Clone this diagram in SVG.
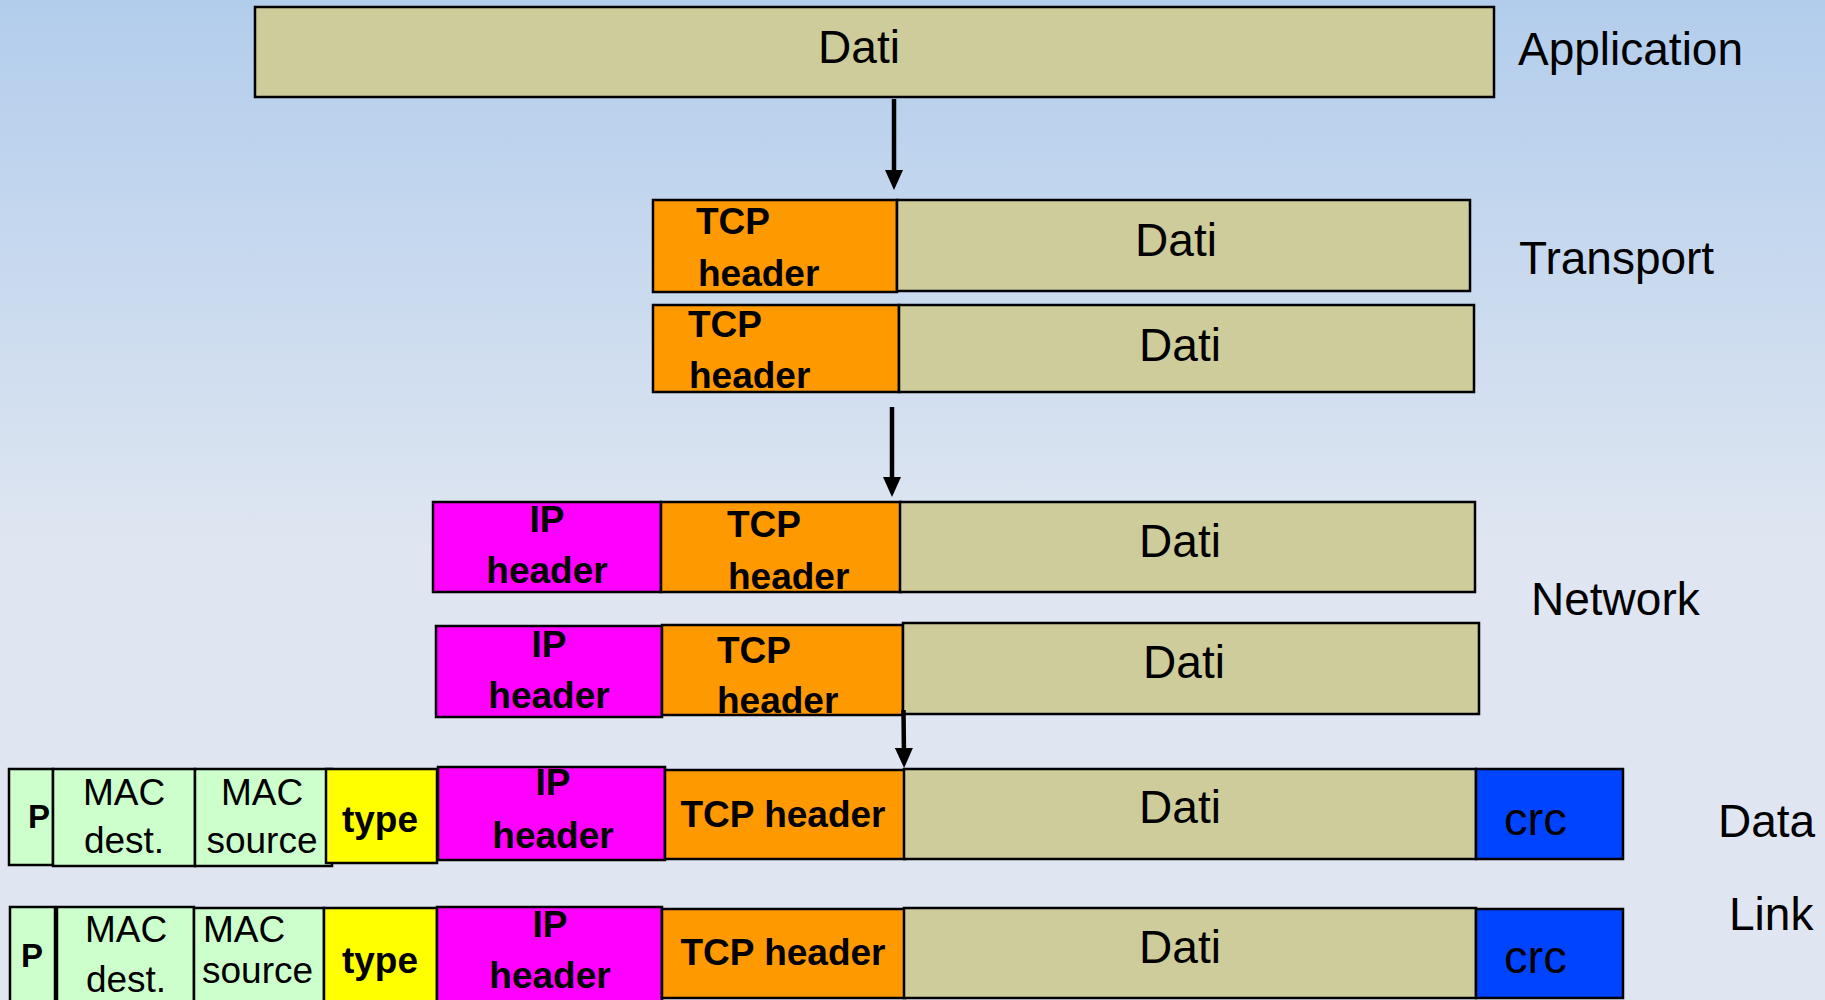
<svg xmlns="http://www.w3.org/2000/svg" width="1825" height="1000" viewBox="0 0 1825 1000">
  <defs>
    <linearGradient id="bg" x1="0" y1="0" x2="0" y2="1000" gradientUnits="userSpaceOnUse">
      <stop offset="0" stop-color="#b2cdec"/>
      <stop offset="0.55" stop-color="#dfe6f1"/>
      <stop offset="1" stop-color="#dfe6f1"/>
    </linearGradient>
    <!-- arrowhead: reference point sits 10px behind the tip -->
    <marker id="head" markerWidth="20" markerHeight="18" refX="10" refY="9" orient="auto" markerUnits="userSpaceOnUse" viewBox="0 0 20 18">
      <path d="M0,0 L20,9 L0,18 Z" fill="#000"/>
    </marker>
  </defs>
  <style>
    rect { stroke: #000; stroke-width: 2.5; }
    .dati { fill: #cdcc9a; }
    .tcp { fill: #ff9900; }
    .ip { fill: #ff00ff; }
    .mac { fill: #ccffcc; }
    .type { fill: #ffff00; }
    .crc { fill: #0044ff; }
    text { font-family: "Liberation Sans", Arial, sans-serif; fill: #000; }
    .big { font-size: 46px; }
    .hdr { font-size: 37px; font-weight: bold; }
    .fld { font-size: 37px; }
    .mid { text-anchor: middle; }
    .arrow { stroke: #000; stroke-width: 4.5; fill: none; }
  </style>

  <rect x="0" y="0" width="1825" height="1000" fill="url(#bg)" style="stroke:none"/>

  <!-- application layer -->
  <g id="app-data">
    <rect class="dati" x="255" y="7" width="1239" height="90"/>
    <text class="big mid" x="859" y="63">Dati</text>
  </g>
  <g id="label-application"><text class="big" x="1518" y="65">Application</text></g>

  <!-- transport layer -->
  <g id="tcp-seg-1">
    <rect class="tcp" x="653" y="200" width="244" height="92"/>
    <rect class="dati" x="897" y="200" width="573" height="91"/>
    <text class="hdr" x="696" y="234">TCP</text>
    <text class="hdr" x="698" y="286">header</text>
    <text class="big mid" x="1176" y="256">Dati</text>
  </g>
  <g id="tcp-seg-2">
    <rect class="tcp" x="653" y="305" width="246" height="87"/>
    <rect class="dati" x="899" y="305" width="575" height="87"/>
    <text class="hdr" x="688" y="337">TCP</text>
    <text class="hdr" x="689" y="388">header</text>
    <text class="big mid" x="1180" y="361">Dati</text>
  </g>
  <g id="label-transport"><text class="big" x="1519" y="274">Transport</text></g>

  <!-- network layer -->
  <g id="ip-pkt-1">
    <rect class="ip" x="433" y="502" width="228" height="90"/>
    <rect class="tcp" x="661" y="502" width="240" height="90"/>
    <rect class="dati" x="900" y="502" width="575" height="90"/>
    <text class="hdr mid" x="547" y="532">IP</text>
    <text class="hdr mid" x="547" y="583">header</text>
    <text class="hdr" x="727" y="537">TCP</text>
    <text class="hdr" x="728" y="589">header</text>
    <text class="big mid" x="1180" y="557">Dati</text>
  </g>
  <g id="ip-pkt-2">
    <rect class="ip" x="436" y="626" width="226" height="91"/>
    <rect class="tcp" x="662" y="625" width="241" height="90"/>
    <rect class="dati" x="903" y="623" width="576" height="91"/>
    <text class="hdr mid" x="549" y="657">IP</text>
    <text class="hdr mid" x="549" y="708">header</text>
    <text class="hdr" x="717" y="663">TCP</text>
    <text class="hdr" x="717" y="713">header</text>
    <text class="big mid" x="1184" y="678">Dati</text>
  </g>
  <g id="label-network"><text class="big" x="1531" y="615">Network</text></g>

  <!-- data link layer -->
  <g id="frame-1">
    <rect class="mac" x="9" y="769" width="44" height="96"/>
    <rect class="mac" x="53" y="769" width="142" height="97"/>
    <rect class="mac" x="195" y="769" width="137" height="97"/>
    <rect class="type" x="326" y="769" width="111" height="94"/>
    <rect class="ip" x="438" y="767" width="227" height="93"/>
    <rect class="tcp" x="665" y="770" width="240" height="89"/>
    <rect class="dati" x="904" y="769" width="572" height="90"/>
    <rect class="crc" x="1476" y="769" width="147" height="90"/>
    <text class="mid" x="39" y="828" style="font-size:33px;font-weight:bold">P</text>
    <text class="fld mid" x="124" y="805">MAC</text>
    <text class="fld mid" x="124" y="853">dest.</text>
    <text class="fld mid" x="262" y="805">MAC</text>
    <text class="fld mid" x="262" y="853">source</text>
    <text class="hdr mid" x="380" y="832">type</text>
    <text class="hdr mid" x="553" y="795">IP</text>
    <text class="hdr mid" x="553" y="848">header</text>
    <text class="hdr mid" x="783" y="827">TCP header</text>
    <text class="big mid" x="1180" y="823">Dati</text>
    <text x="1504" y="835" style="font-size:47px">crc</text>
  </g>
  <g id="frame-2">
    <rect class="mac" x="10" y="907" width="45" height="100"/>
    <rect class="mac" x="57" y="907" width="137" height="100"/>
    <rect class="mac" x="194" y="908" width="130" height="100"/>
    <rect class="type" x="324" y="908" width="113" height="100"/>
    <rect class="ip" x="437" y="907" width="225" height="100"/>
    <rect class="tcp" x="662" y="909" width="243" height="89"/>
    <rect class="dati" x="904" y="908" width="572" height="90"/>
    <rect class="crc" x="1476" y="909" width="147" height="89"/>
    <text class="mid" x="32" y="967" style="font-size:33px;font-weight:bold">P</text>
    <text class="fld mid" x="126" y="942">MAC</text>
    <text class="fld mid" x="126" y="992">dest.</text>
    <text class="fld" x="203" y="942">MAC</text>
    <text class="fld" x="202" y="983">source</text>
    <text class="hdr mid" x="380" y="973">type</text>
    <text class="hdr mid" x="550" y="937">IP</text>
    <text class="hdr mid" x="550" y="988">header</text>
    <text class="hdr mid" x="783" y="965">TCP header</text>
    <text class="big mid" x="1180" y="963">Dati</text>
    <text x="1504" y="973" style="font-size:47px">crc</text>
  </g>
  <g id="label-datalink">
    <text class="big" x="1718" y="837">Data</text>
    <text class="big" x="1729" y="930">Link</text>
  </g>

  <!-- encapsulation arrows -->
  <g id="connectors">
    <line class="arrow" x1="894" y1="99" x2="894" y2="180" marker-end="url(#head)"/>
    <line class="arrow" x1="892" y1="407" x2="892" y2="487" marker-end="url(#head)"/>
    <line class="arrow" x1="903.5" y1="710" x2="904" y2="758" marker-end="url(#head)"/>
  </g>
</svg>
